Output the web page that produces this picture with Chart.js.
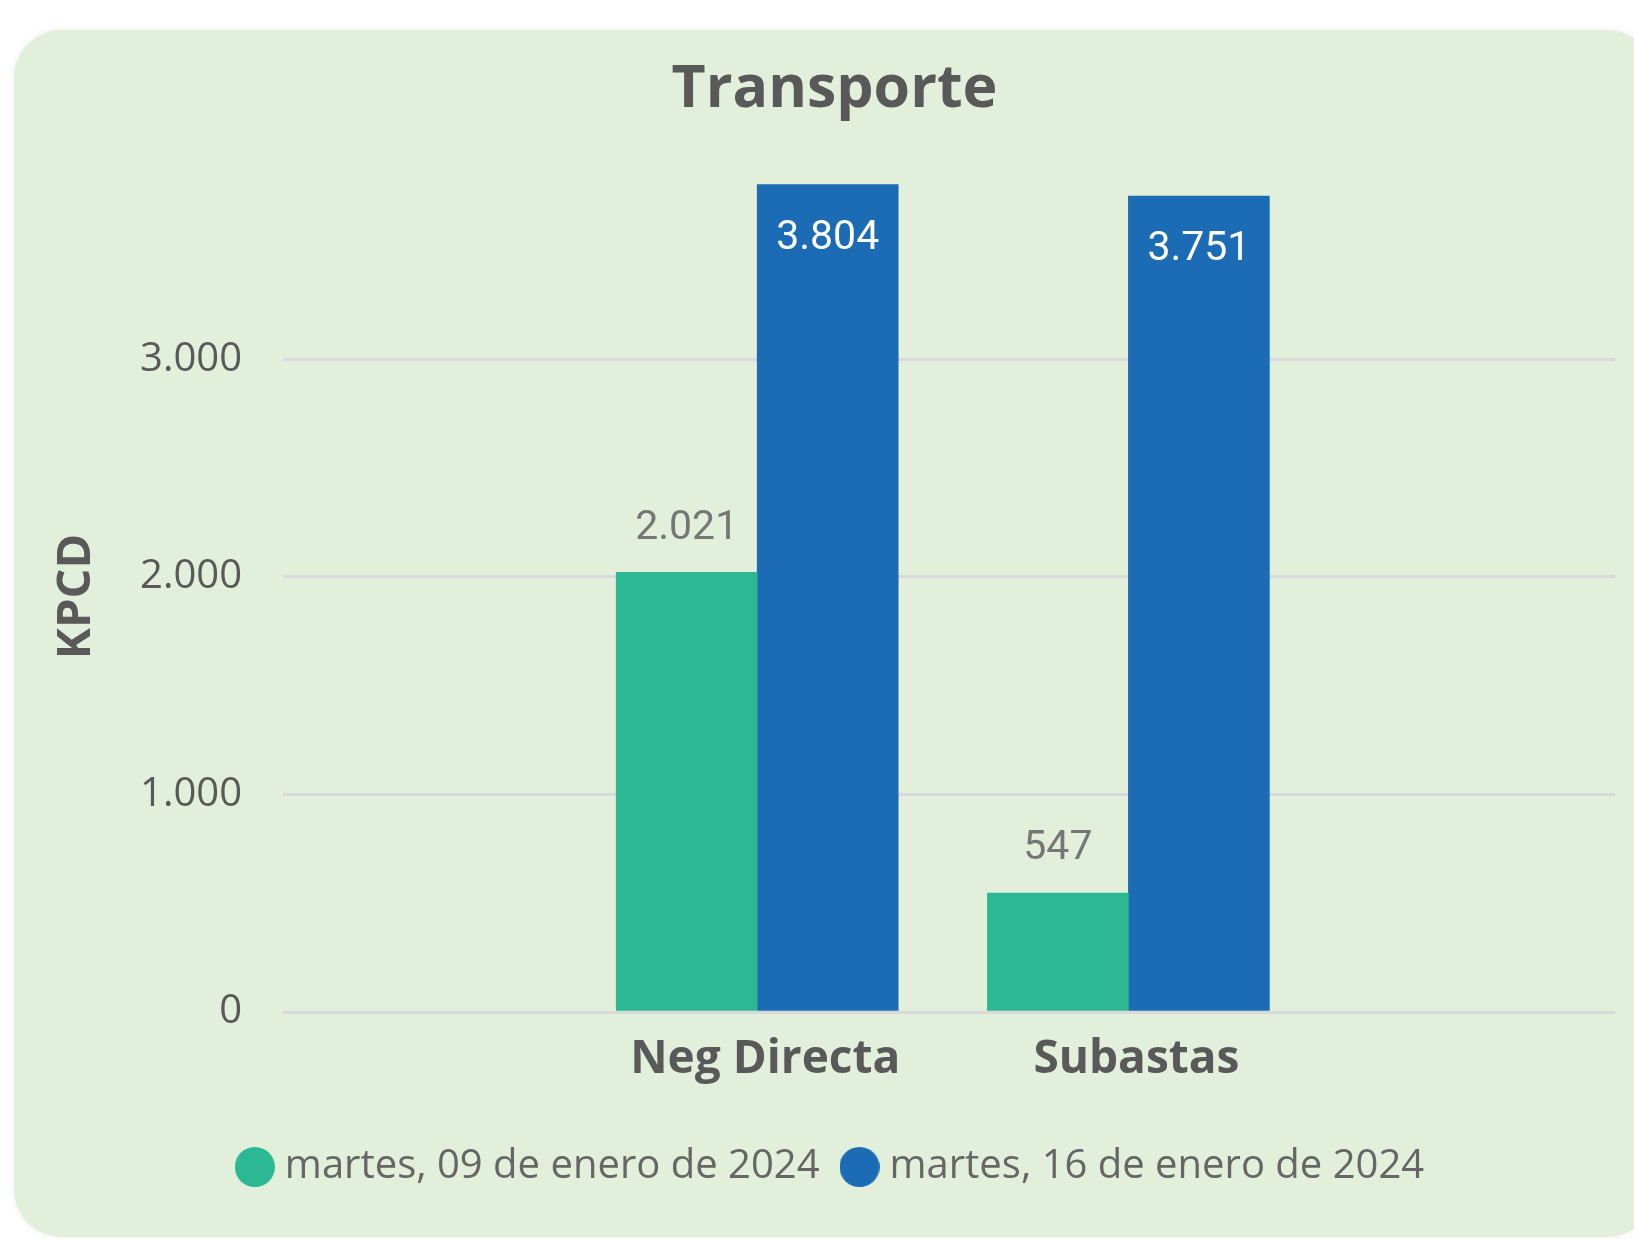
<!DOCTYPE html>
<html>
<head>
<meta charset="utf-8">
<script src="https://cdn.jsdelivr.net/npm/chart.js@4.4.0/dist/chart.umd.min.js"></script>
<style>
  html, body { margin: 0; padding: 0; background: #fff; width: 1634px; height: 1239px; overflow: hidden; }
  #card {
    position: absolute; left: 14px; top: 30px; width: 1641px; height: 1207px;
    background: #e2efda; border-radius: 48px; box-shadow: 0 0 8px rgba(0,0,0,0.07);
  }
  #card canvas { position: absolute; left: 0; top: 0; }
</style>
</head>
<body>
<div id="card"><canvas id="chart" width="1641" height="1207"></canvas></div>
<script>
// data
const categories = ["Neg Directa", "Subastas"];
const seriesNames = ["martes, 09 de enero de 2024", "martes, 16 de enero de 2024"];
const jan09 = [2021, 547];
const jan16 = [3804, 3751];
const seriesColors = ["#2bb893", "#1b6cb5"];
const yTicks = [0, 1000, 2000, 3000];
const yMax = 3820;

const FONT = "'Open Sans', sans-serif";
const TEXT = "#595959";

const fmt = v => String(Math.round(v)).replace(/\B(?=(\d{3})+(?!\d))/g, ".");

// round legend dots
const dot = color => {
  const c = document.createElement("canvas");
  c.width = 40; c.height = 40;
  const g = c.getContext("2d");
  g.fillStyle = color;
  g.beginPath(); g.arc(20, 20, 20, 0, Math.PI * 2); g.fill();
  return c;
};
const dots = seriesColors.map(dot);

// green labels sit above the bar, blue ones inside the top
const labelInside = [false, true];
const barLabels = {
  id: "barLabels",
  afterDatasetsDraw(chart) {
    const ctx = chart.ctx;
    ctx.save();
    ctx.font = "41px Roboto, sans-serif";
    ctx.textAlign = "center";
    ctx.textBaseline = "middle";
    chart.data.datasets.forEach((ds, di) => {
      chart.getDatasetMeta(di).data.forEach((bar, i) => {
        const txt = fmt(ds.data[i].y);
        if (labelInside[di]) {
          ctx.fillStyle = "#ffffff";
          ctx.fillText(txt, bar.x, bar.y + 54);
        } else {
          ctx.fillStyle = "#767676";
          ctx.fillText(txt, bar.x, bar.y - 44);
        }
      });
    });
    ctx.restore();
  }
};

const toPoints = vals => vals.map((v, i) => ({ x: i, y: v }));

new Chart(document.getElementById("chart"), {
  type: "bar",
  data: {
    datasets: [
      { label: seriesNames[0], data: toPoints(jan09), backgroundColor: seriesColors[0], barThickness: 141 },
      { label: seriesNames[1], data: toPoints(jan16), backgroundColor: seriesColors[1], barThickness: 141 }
    ]
  },
  options: {
    responsive: false,
    animation: false,
    layout: { padding: { left: 0, right: 0, top: 0, bottom: 40 } },
    scales: {
      x: {
        type: "linear",
        bounds: "data",
        offset: false,
        min: -1.2776,
        max: 2.311,
        grid: { display: false, drawTicks: false, offset: false },
        border: { display: false },
        ticks: {
          autoSkip: false,
          maxRotation: 0,
          padding: 20,
          labelOffset: 8,
          color: TEXT,
          font: { family: FONT, size: 46, weight: "bold" },
          callback: v => categories[v] ?? ""
        },
        afterBuildTicks: s => { s.ticks = categories.map((c, i) => ({ value: i })); },
        afterFit: s => { s.height = 105; }
      },
      y: {
        bounds: "data",
        min: 0,
        max: yMax,
        grid: { color: "#d9d9dc", lineWidth: 3, drawTicks: false },
        border: { display: false },
        ticks: {
          padding: 41,
          color: TEXT,
          font: { family: FONT, size: 40 },
          callback: v => fmt(v)
        },
        afterBuildTicks: s => { s.ticks = yTicks.map(v => ({ value: v })); },
        title: {
          display: true,
          text: "KPCD",
          color: TEXT,
          font: { family: FONT, size: 47, weight: "bold" },
          padding: { top: 34, bottom: 0 }
        },
        afterFit: s => { s.width = 269; }
      },
      r: {
        position: "right",
        grid: { display: false },
        border: { display: false },
        ticks: { display: false },
        afterFit: s => { s.width = 40; }
      }
    },
    plugins: {
      title: {
        display: true,
        text: "Transporte",
        color: TEXT,
        font: { family: FONT, size: 59, weight: "bold" },
        padding: { top: 24.5, bottom: 55.7 }
      },
      legend: {
        position: "bottom",
        labels: {
          usePointStyle: true,
          pointStyleWidth: 20,
          padding: 30,
          color: "#666666",
          font: { family: FONT, size: 40 },
          generateLabels: chart =>
            Chart.defaults.plugins.legend.labels.generateLabels(chart).map((l, i) => ({ ...l, pointStyle: dots[i] }))
        }
      },
      tooltip: { enabled: false }
    }
  },
  plugins: [barLabels]
});
</script>
</body>
</html>
